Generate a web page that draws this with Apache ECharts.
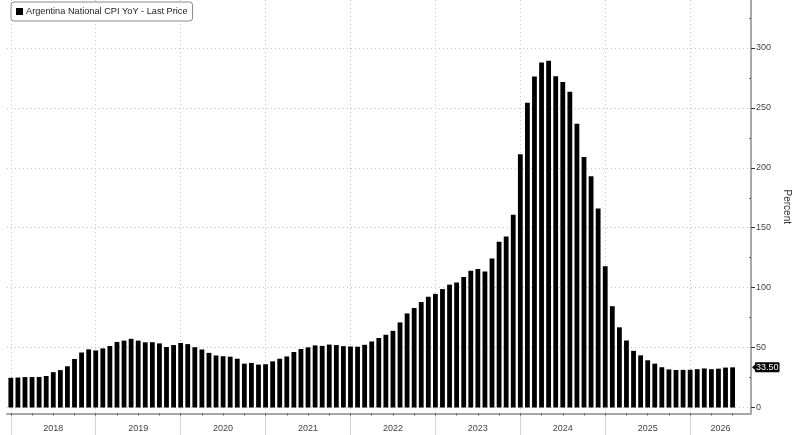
<!DOCTYPE html>
<html>
<head>
<meta charset="utf-8">
<script src="https://cdn.jsdelivr.net/npm/echarts@6/dist/echarts.min.js"></script>
<style>
html,body{margin:0;padding:0;background:#fff;}
#chart{width:800px;height:435px;}
</style>
</head>
<body>
<div id="chart"></div>
<script>
// Monthly Argentina CPI YoY (%), Dec 2017 .. Jun 2026 (bars at month end)
const firstMonth = 'Dec 2017';
const cpiYoY = [
  24.8,
  25.0, 25.4, 25.4, 25.5, 26.3, 29.5, 31.2, 34.4, 40.5, 45.9, 48.5, 47.6,
  49.3, 51.3, 54.7, 55.8, 57.3, 55.8, 54.4, 54.5, 53.5, 50.5, 52.1, 53.8,
  52.9, 50.3, 48.4, 45.6, 43.4, 42.8, 42.4, 40.7, 36.6, 37.2, 35.8, 36.1,
  38.5, 40.7, 42.6, 46.3, 48.8, 50.2, 51.8, 51.4, 52.5, 52.1, 51.2, 50.9,
  50.7, 52.3, 55.1, 58.0, 60.7, 64.0, 71.0, 78.5, 83.0, 88.0, 92.4, 94.8,
  98.8, 102.5, 104.3, 108.8, 114.2, 115.6, 113.4, 124.4, 138.3, 142.7, 160.9, 211.4,
  254.2, 276.2, 287.9, 289.4, 276.4, 271.5, 263.4, 236.7, 209.0, 193.0, 166.0, 117.8,
  84.5, 66.9, 55.9, 47.3, 43.5, 39.4, 36.6, 33.6, 31.8, 31.3, 31.4, 31.5,
  32.0, 32.6, 32.0, 32.4, 33.3, 33.5
];
const years = ['2018', '2019', '2020', '2021', '2022', '2023', '2024', '2025', '2026'];
const yTickValues = [0, 50, 100, 150, 200, 250, 300];
const seriesName = 'Argentina National CPI YoY - Last Price';

// x = months after 1 Jan 2018 (first bar = end of Dec 2017 at 0)
const xMin = -0.54, xMax = 104.6;
const yMin = -5, yMax = 340;

const yearStarts = years.map((y, i) => i * 12);
const yearMids = years.map((y, i) => (i * 12 + Math.min(i * 12 + 12, xMax)) / 2);
const quarterTicks = [];
for (let m = 0; m <= xMax; m += 3) quarterTicks.push(m);
const minorY = [];
for (let v = 25; v <= yMax; v += 50) minorY.push(v);
const lastValue = cpiYoY[cpiYoY.length - 1];

const chart = echarts.init(document.getElementById('chart'), null, {renderer: 'canvas'});
const font = '"Liberation Sans", Arial, sans-serif';
chart.setOption({
  animation: false,
  backgroundColor: '#fff',
  textStyle: {fontFamily: font},
  grid: {left: 7, right: 48, top: 0, bottom: 21.5, containLabel: false},
  legend: {
    show: true,
    left: 11, top: 2,
    data: [{name: seriesName, icon: 'rect'}],
    itemWidth: 7, itemHeight: 7,
    padding: [5, 5, 5, 5],
    borderColor: '#8a8a8a', borderWidth: 1, borderRadius: 3,
    backgroundColor: '#fff',
    textStyle: {fontSize: 9.2, color: '#222', fontFamily: font, padding: [0, 0, 0, -2]},
    selectedMode: false
  },
  xAxis: [
    {
      type: 'value', min: xMin, max: xMax, position: 'bottom',
      axisLine: {show: true, onZero: false, lineStyle: {color: '#a8a8a8', width: 2}},
      axisTick: {show: true, customValues: yearStarts, length: 22, lineStyle: {color: '#d4d4d4', width: 1}},
      axisLabel: {
        show: true, customValues: yearMids, margin: 11, fontSize: 9, color: '#444', fontFamily: font,
        formatter: function (v) { return years[Math.floor(v / 12)]; }
      },
      splitLine: {show: true, lineStyle: {color: '#c4c4c4', type: [1, 3], width: 1}}
    },
    {
      type: 'value', min: xMin, max: xMax, position: 'bottom',
      axisLine: {show: false, onZero: false},
      axisTick: {show: true, customValues: quarterTicks, length: 2, lineStyle: {color: '#555', width: 1}},
      axisLabel: {show: false},
      splitLine: {show: false}
    }
  ],
  yAxis: [
    {
      type: 'value', min: yMin, max: yMax, position: 'right',
      name: 'Percent', nameLocation: 'middle', nameRotate: -90, nameGap: 31,
      nameTextStyle: {fontSize: 10, color: '#333', fontFamily: font},
      axisLine: {show: true, onZero: false, lineStyle: {color: '#a8a8a8', width: 2}},
      axisTick: {show: true, customValues: yTickValues, length: 4, lineStyle: {color: '#333', width: 1}},
      axisLabel: {show: true, customValues: yTickValues, margin: 5, fontSize: 9, color: '#444', fontFamily: font},
      splitLine: {show: true, lineStyle: {color: '#c4c4c4', type: [1, 3], width: 1}}
    },
    {
      type: 'value', min: yMin, max: yMax, position: 'right',
      axisLine: {show: false, onZero: false},
      axisTick: {show: true, inside: true, customValues: minorY, length: 2, lineStyle: {color: '#666', width: 1}},
      axisLabel: {show: false},
      splitLine: {show: false}
    }
  ],
  series: [
    {
      name: seriesName,
      type: 'bar',
      xAxisIndex: 0, yAxisIndex: 0,
      barWidth: 4.8,
      clip: false,
      itemStyle: {color: '#000'},
      data: cpiYoY.map((v, i) => [i, v]),
      markLine: {
        silent: true,
        symbol: ['none', 'none'],
        lineStyle: {color: 'rgba(0,0,0,0)', width: 0},
        label: {
          show: true, position: 'end', distance: 4,
          formatter: function () { return lastValue.toFixed(2); },
          color: '#fff', backgroundColor: '#000', fontSize: 9, fontFamily: font,
          padding: [1, 1, 0, 1], borderRadius: 1
        },
        data: [{yAxis: lastValue}]
      },
      markPoint: {
        silent: true,
        symbol: 'triangle',
        symbolSize: [7, 4],
        symbolRotate: 90,
        symbolOffset: [3, 0],
        itemStyle: {color: '#000'},
        label: {show: false},
        data: [{coord: [xMax, lastValue]}]
      }
    }
  ]
});
</script>
</body>
</html>
